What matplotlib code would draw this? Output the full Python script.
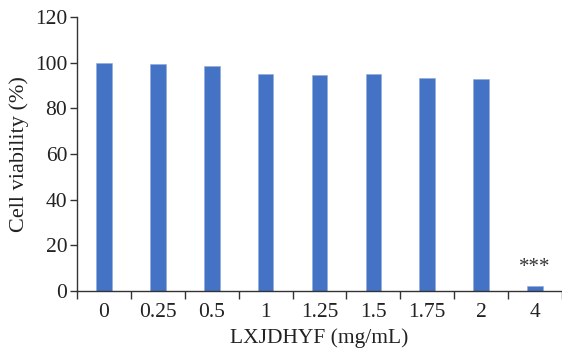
import matplotlib
matplotlib.use("Agg")
import matplotlib.pyplot as plt
import numpy as np

# LXJDHYF concentrations and cell viability
doses = ["0", "0.25", "0.5", "1", "1.25", "1.5", "1.75", "2", "4"]
viability = [99.7, 99.4, 98.6, 95.0, 94.6, 95.0, 93.1, 93.0, 2.2]
marks = ["", "", "", "", "", "", "", "", "***"]

plt.rcParams["font.family"] = ["Liberation Serif", "DejaVu Serif"]

fig = plt.figure(figsize=(5.62, 3.51), dpi=100)
ax = fig.add_axes([0.137, 0.171, 0.863, 0.781])

x = np.arange(len(doses))
bars = ax.bar(x, viability, width=0.29, color="#4472C4", edgecolor="#8FAADC", linewidth=0.4)

for b, m in zip(bars, marks):
    if m:
        ax.text(b.get_x() + b.get_width() / 2, b.get_height() + 4, m,
                ha="center", va="bottom", fontsize=15, color="#333333")

ax.set_xlim(-0.5, len(doses) - 0.5)
ax.set_ylim(0, 120)
ax.set_yticks(np.arange(0, 121, 20))
ax.set_xticks(x)
ax.set_xticklabels(doses)
ax.set_xticks(np.arange(-0.5, len(doses)), minor=True)
ax.tick_params(axis="x", which="major", length=0, pad=9, labelsize=15.5, colors="#222222")
ax.tick_params(axis="x", which="minor", length=6, width=1, direction="out", color="#333333")
ax.tick_params(axis="y", length=5, width=1, direction="out", labelsize=15.5, pad=2, colors="#222222")
ax.tick_params(axis="y", color="#333333")

for s in ["top", "right"]:
    ax.spines[s].set_visible(False)
for s in ["left", "bottom"]:
    ax.spines[s].set_color("#333333")
    ax.spines[s].set_linewidth(1)

ax.set_xlabel("LXJDHYF (mg/mL)", fontsize=15.5, color="#222222", labelpad=4)
ax.set_ylabel("Cell viability (%)", fontsize=16, color="#222222", labelpad=4)

fig.savefig("out.png", dpi=100)
